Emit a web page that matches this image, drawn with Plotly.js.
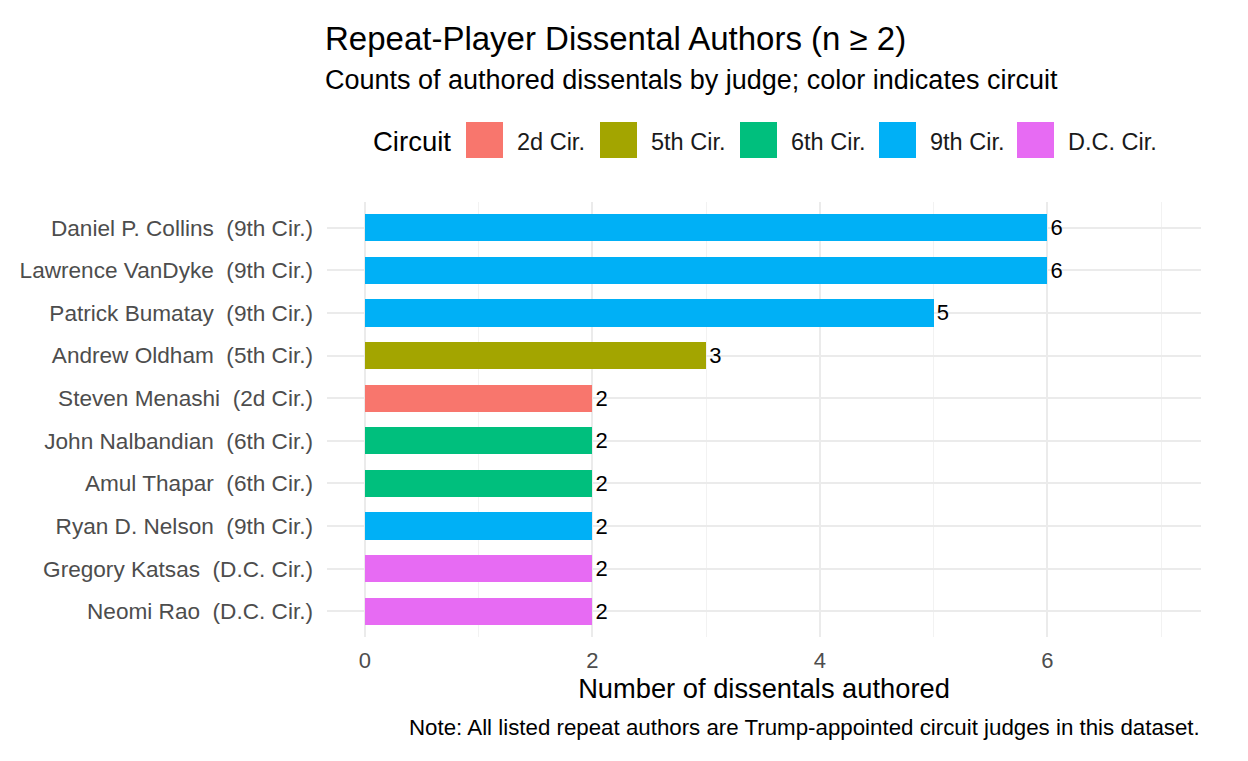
<!DOCTYPE html>
<html>
<head>
<meta charset="utf-8">
<script src="https://cdn.plot.ly/plotly-3.0.1.min.js"></script>
<style>html,body{margin:0;padding:0;background:#fff;}#chart{width:1248px;height:761px;}</style>
</head>
<body>
<div id="chart"></div>
<script>
const judges = ["Daniel P. Collins", "Lawrence VanDyke", "Patrick Bumatay", "Andrew Oldham", "Steven Menashi", "John Nalbandian", "Amul Thapar", "Ryan D. Nelson", "Gregory Katsas", "Neomi Rao"];
const judgeCircuits = ["9th Cir.", "9th Cir.", "9th Cir.", "5th Cir.", "2d Cir.", "6th Cir.", "6th Cir.", "9th Cir.", "D.C. Cir.", "D.C. Cir."];
const dissentCounts = [6, 6, 5, 3, 2, 2, 2, 2, 2, 2];
const circuits = ["2d Cir.", "5th Cir.", "6th Cir.", "9th Cir.", "D.C. Cir."];
const circuitColors = ["#F8766D", "#A3A500", "#00BF7D", "#00B0F6", "#E76BF3"];
const xTicks = [0, 2, 4, 6];

const FONT = "Liberation Sans, Arial, sans-serif";
const labels = judges.map((j, i) => j + "\u00A0 (" + judgeCircuits[i] + ")");
const colorOf = c => circuitColors[circuits.indexOf(c)];

// plot area in pixels
const L = 327, R = 1201, T = 202, B = 637, W = 1248, H = 761;
const px = x => (x - L) / (R - L);
const py = y => (B - y) / (B - T);

const trace = {
  type: "bar",
  orientation: "h",
  y: labels,
  x: dissentCounts,
  width: 0.64,
  marker: {color: judgeCircuits.map(colorOf), line: {width: 0}},
  text: dissentCounts.map(String),
  textposition: "outside",
  textfont: {family: FONT, size: 22, color: "#000000"},
  cliponaxis: false,
  hoverinfo: "x+y",
  showlegend: false
};

const shapes = [];
const annotations = [];
// Legend (drawn manually to match large key squares)
annotations.push({xref: "paper", yref: "paper", x: px(371), y: py(142), xanchor: "left", yanchor: "middle",
  text: "Circuit", showarrow: false, font: {family: FONT, size: 27.5, color: "#000000"}});
const keyX = [466, 600, 740, 879, 1017];
circuits.forEach((c, i) => {
  shapes.push({type: "rect", xref: "paper", yref: "paper", x0: px(keyX[i]), x1: px(keyX[i] + 37), y0: py(158), y1: py(122),
    fillcolor: circuitColors[i], line: {width: 0}, layer: "above"});
  annotations.push({xref: "paper", yref: "paper", x: px(keyX[i] + 49), y: py(142), xanchor: "left", yanchor: "middle",
    text: c, showarrow: false, font: {family: FONT, size: 23.5, color: "#1a1a1a"}});
});
// Title and subtitle
annotations.push({xref: "paper", yref: "paper", x: px(323), y: py(38), xanchor: "left", yanchor: "middle",
  text: "Repeat-Player Dissental Authors (n \u2265 2)", showarrow: false, font: {family: FONT, size: 33, color: "#000000"}});
annotations.push({xref: "paper", yref: "paper", x: px(323), y: py(80), xanchor: "left", yanchor: "middle",
  text: "Counts of authored dissentals by judge; color indicates circuit", showarrow: false, font: {family: FONT, size: 27, color: "#000000"}});
// Caption
annotations.push({xref: "paper", yref: "paper", x: px(1202), y: py(727), xanchor: "right", yanchor: "middle",
  text: "Note: All listed repeat authors are Trump-appointed circuit judges in this dataset.", showarrow: false,
  font: {family: FONT, size: 22.3, color: "#000000"}});

const layout = {
  width: W, height: H,
  margin: {l: L, r: W - R, t: T, b: H - B, pad: 0},
  paper_bgcolor: "#ffffff",
  plot_bgcolor: "#ffffff",
  font: {family: FONT},
  showlegend: false,
  bargap: 0,
  xaxis: {
    range: [-0.334, 7.35],
    tickvals: xTicks,
    ticktext: xTicks.map(String),
    showgrid: true, gridcolor: "#EBEBEB", gridwidth: 2,
    minor: {dtick: 1, tick0: 0, showgrid: true, gridcolor: "#F2F2F2", gridwidth: 1},
    zeroline: false, showline: false, ticks: "",
    ticklabelstandoff: 8,
    tickfont: {family: FONT, size: 22, color: "#4D4D4D"},
    title: {text: "Number of dissentals authored", font: {family: FONT, size: 27.3, color: "#000000"}, standoff: 3}
  },
  yaxis: {
    type: "category",
    categoryorder: "array",
    categoryarray: labels,
    range: [9.6, -0.6],
    showgrid: true, gridcolor: "#EBEBEB", gridwidth: 2,
    zeroline: false, showline: false, ticks: "",
    ticklabelstandoff: 13,
    tickfont: {family: FONT, size: 22.6, color: "#4D4D4D"}
  },
  shapes: shapes,
  annotations: annotations
};

Plotly.newPlot("chart", [trace], layout, {displayModeBar: false, staticPlot: true});
</script>
</body>
</html>
